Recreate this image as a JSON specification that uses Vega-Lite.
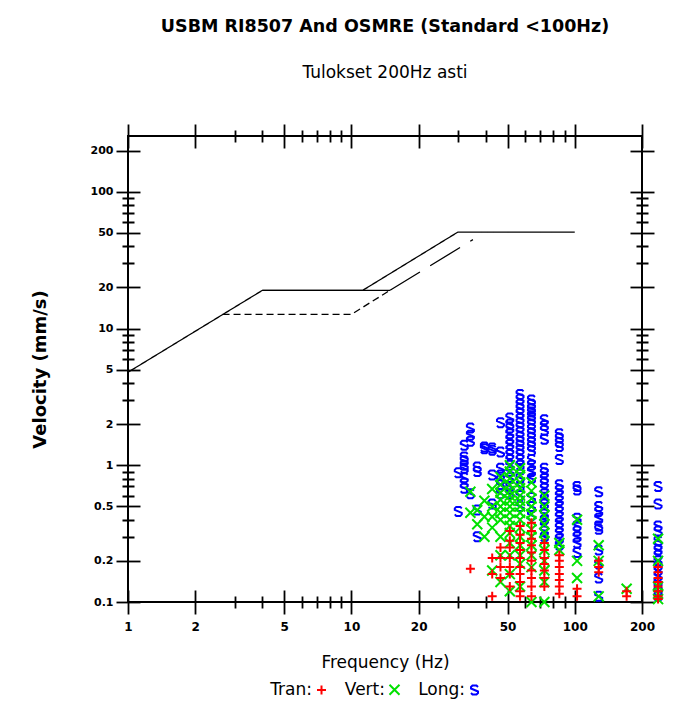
{
  "$schema": "https://vega.github.io/schema/vega-lite/v6.json",
  "width": 514,
  "height": 466,
  "autosize": "none",
  "padding": {"left": 128, "right": 37, "top": 136, "bottom": 107},
  "background": "white",
  "title": {
    "text": "USBM RI8507 And OSMRE (Standard <100Hz)",
    "subtitle": "Tulokset 200Hz asti",
    "anchor": "middle",
    "frame": "group",
    "font": "DejaVu Sans",
    "fontSize": 17.5,
    "fontWeight": "bold",
    "color": "black",
    "subtitleFont": "DejaVu Sans",
    "subtitleFontSize": 17,
    "subtitleFontWeight": "normal",
    "subtitleColor": "black",
    "subtitlePadding": 30,
    "offset": 42
  },
  "config": {
    "view": {"stroke": "black", "strokeWidth": 2},
    "axis": {
      "domain": false,
      "grid": false,
      "offset": -12,
      "tickSize": 24,
      "tickWidth": 1.8,
      "tickColor": "black",
      "tickCap": "butt",
      "labelOverlap": false,
      "labelFlush": false,
      "labelBound": false,
      "labelColor": "black",
      "titleColor": "black"
    }
  },
  "datasets": {
    "lines": [
      {"series": "OSMRE", "i": 0, "f": 1, "v": 4.79},
      {"series": "OSMRE", "i": 1, "f": 4, "v": 19.05},
      {"series": "OSMRE", "i": 2, "f": 11.25, "v": 19.05},
      {"series": "OSMRE", "i": 3, "f": 30, "v": 50.8},
      {"series": "OSMRE", "i": 4, "f": 100, "v": 50.8},
      {"series": "USBM", "i": 0, "f": 4, "v": 19.05},
      {"series": "USBM", "i": 1, "f": 14.9, "v": 19.05},
      {"series": "USBM2", "i": 0, "f": 14.9, "v": 19.05},
      {"series": "USBM2", "i": 1, "f": 35, "v": 44.7},
      {"series": "Plaster", "i": 0, "f": 2.65, "v": 12.7},
      {"series": "Plaster", "i": 1, "f": 10, "v": 12.7},
      {"series": "Plaster", "i": 2, "f": 14.9, "v": 19.05}
    ],
    "pts": [
      {"s": "Long", "f": 30.1, "v": 0.46}, {"s": "Long", "f": 30.1, "v": 0.88},
      {"s": "Long", "f": 32, "v": 1.4}, {"s": "Long", "f": 32, "v": 1.15}, {"s": "Long", "f": 32, "v": 1.08}, {"s": "Long", "f": 32, "v": 1.0}, {"s": "Long", "f": 32, "v": 0.95}, {"s": "Long", "f": 32, "v": 0.81}, {"s": "Long", "f": 32, "v": 0.74}, {"s": "Long", "f": 32, "v": 0.68},
      {"s": "Long", "f": 34.1, "v": 1.87}, {"s": "Long", "f": 34.1, "v": 1.66}, {"s": "Long", "f": 34.1, "v": 1.5}, {"s": "Long", "f": 34.1, "v": 0.62},
      {"s": "Long", "f": 36.6, "v": 0.97}, {"s": "Long", "f": 36.6, "v": 0.9}, {"s": "Long", "f": 36.6, "v": 0.47}, {"s": "Long", "f": 36.6, "v": 0.3},
      {"s": "Long", "f": 39.4, "v": 1.36}, {"s": "Long", "f": 39.4, "v": 1.32},
      {"s": "Long", "f": 42.7, "v": 1.34}, {"s": "Long", "f": 42.7, "v": 1.29}, {"s": "Long", "f": 42.7, "v": 0.85}, {"s": "Long", "f": 42.7, "v": 0.52},
      {"s": "Long", "f": 46.5, "v": 2.05}, {"s": "Long", "f": 46.5, "v": 1.25}, {"s": "Long", "f": 46.5, "v": 0.95}, {"s": "Long", "f": 46.5, "v": 0.85}, {"s": "Long", "f": 46.5, "v": 0.78}, {"s": "Long", "f": 46.5, "v": 0.72}, {"s": "Long", "f": 46.5, "v": 0.62},
      {"s": "Long", "f": 51.2, "v": 2.22}, {"s": "Long", "f": 51.2, "v": 2.0}, {"s": "Long", "f": 51.2, "v": 1.87}, {"s": "Long", "f": 51.2, "v": 1.7}, {"s": "Long", "f": 51.2, "v": 1.55}, {"s": "Long", "f": 51.2, "v": 1.42}, {"s": "Long", "f": 51.2, "v": 1.3}, {"s": "Long", "f": 51.2, "v": 1.2}, {"s": "Long", "f": 51.2, "v": 1.1}, {"s": "Long", "f": 51.2, "v": 1.0}, {"s": "Long", "f": 51.2, "v": 0.9}, {"s": "Long", "f": 51.2, "v": 0.81}, {"s": "Long", "f": 51.2, "v": 0.7}, {"s": "Long", "f": 51.2, "v": 0.62},
      {"s": "Long", "f": 56.9, "v": 3.3}, {"s": "Long", "f": 56.9, "v": 3.05}, {"s": "Long", "f": 56.9, "v": 2.8}, {"s": "Long", "f": 56.9, "v": 2.6}, {"s": "Long", "f": 56.9, "v": 2.4}, {"s": "Long", "f": 56.9, "v": 2.2}, {"s": "Long", "f": 56.9, "v": 2.05}, {"s": "Long", "f": 56.9, "v": 1.9}, {"s": "Long", "f": 56.9, "v": 1.75}, {"s": "Long", "f": 56.9, "v": 1.62}, {"s": "Long", "f": 56.9, "v": 1.5}, {"s": "Long", "f": 56.9, "v": 1.4}, {"s": "Long", "f": 56.9, "v": 1.3}, {"s": "Long", "f": 56.9, "v": 1.2}, {"s": "Long", "f": 56.9, "v": 1.1}, {"s": "Long", "f": 56.9, "v": 1.0}, {"s": "Long", "f": 56.9, "v": 0.81}, {"s": "Long", "f": 56.9, "v": 0.7}, {"s": "Long", "f": 56.9, "v": 0.6}, {"s": "Long", "f": 56.9, "v": 0.5},
      {"s": "Long", "f": 64, "v": 3.0}, {"s": "Long", "f": 64, "v": 2.8}, {"s": "Long", "f": 64, "v": 2.6}, {"s": "Long", "f": 64, "v": 2.45}, {"s": "Long", "f": 64, "v": 2.3}, {"s": "Long", "f": 64, "v": 2.15}, {"s": "Long", "f": 64, "v": 2.0}, {"s": "Long", "f": 64, "v": 1.85}, {"s": "Long", "f": 64, "v": 1.72}, {"s": "Long", "f": 64, "v": 1.6}, {"s": "Long", "f": 64, "v": 1.48}, {"s": "Long", "f": 64, "v": 1.38}, {"s": "Long", "f": 64, "v": 1.28}, {"s": "Long", "f": 64, "v": 1.1}, {"s": "Long", "f": 64, "v": 1.0}, {"s": "Long", "f": 64, "v": 0.9}, {"s": "Long", "f": 64, "v": 0.8}, {"s": "Long", "f": 64, "v": 0.58}, {"s": "Long", "f": 64, "v": 0.5}, {"s": "Long", "f": 64, "v": 0.43},
      {"s": "Long", "f": 73.1, "v": 2.15}, {"s": "Long", "f": 73.1, "v": 1.95}, {"s": "Long", "f": 73.1, "v": 1.8}, {"s": "Long", "f": 73.1, "v": 1.55}, {"s": "Long", "f": 73.1, "v": 0.95}, {"s": "Long", "f": 73.1, "v": 0.88}, {"s": "Long", "f": 73.1, "v": 0.8}, {"s": "Long", "f": 73.1, "v": 0.74}, {"s": "Long", "f": 73.1, "v": 0.68}, {"s": "Long", "f": 73.1, "v": 0.62}, {"s": "Long", "f": 73.1, "v": 0.57}, {"s": "Long", "f": 73.1, "v": 0.52}, {"s": "Long", "f": 73.1, "v": 0.48}, {"s": "Long", "f": 73.1, "v": 0.44}, {"s": "Long", "f": 73.1, "v": 0.4}, {"s": "Long", "f": 73.1, "v": 0.36}, {"s": "Long", "f": 73.1, "v": 0.33}, {"s": "Long", "f": 73.1, "v": 0.3},
      {"s": "Long", "f": 85.3, "v": 1.7}, {"s": "Long", "f": 85.3, "v": 1.58}, {"s": "Long", "f": 85.3, "v": 1.47}, {"s": "Long", "f": 85.3, "v": 1.37}, {"s": "Long", "f": 85.3, "v": 1.1}, {"s": "Long", "f": 85.3, "v": 0.72}, {"s": "Long", "f": 85.3, "v": 0.66}, {"s": "Long", "f": 85.3, "v": 0.6}, {"s": "Long", "f": 85.3, "v": 0.55}, {"s": "Long", "f": 85.3, "v": 0.5}, {"s": "Long", "f": 85.3, "v": 0.46}, {"s": "Long", "f": 85.3, "v": 0.42}, {"s": "Long", "f": 85.3, "v": 0.38}, {"s": "Long", "f": 85.3, "v": 0.35}, {"s": "Long", "f": 85.3, "v": 0.32}, {"s": "Long", "f": 85.3, "v": 0.29}, {"s": "Long", "f": 85.3, "v": 0.26},
      {"s": "Long", "f": 102.4, "v": 0.7}, {"s": "Long", "f": 102.4, "v": 0.66}, {"s": "Long", "f": 102.4, "v": 0.41}, {"s": "Long", "f": 102.4, "v": 0.36}, {"s": "Long", "f": 102.4, "v": 0.33}, {"s": "Long", "f": 102.4, "v": 0.3}, {"s": "Long", "f": 102.4, "v": 0.27}, {"s": "Long", "f": 102.4, "v": 0.23},
      {"s": "Long", "f": 128, "v": 0.64}, {"s": "Long", "f": 128, "v": 0.5}, {"s": "Long", "f": 128, "v": 0.46}, {"s": "Long", "f": 128, "v": 0.41}, {"s": "Long", "f": 128, "v": 0.36}, {"s": "Long", "f": 128, "v": 0.34}, {"s": "Long", "f": 128, "v": 0.24}, {"s": "Long", "f": 128, "v": 0.19}, {"s": "Long", "f": 128, "v": 0.15}, {"s": "Long", "f": 128, "v": 0.11},
      {"s": "Long", "f": 236, "v": 0.7}, {"s": "Long", "f": 236, "v": 0.52}, {"s": "Long", "f": 236, "v": 0.36}, {"s": "Long", "f": 236, "v": 0.33}, {"s": "Long", "f": 236, "v": 0.28}, {"s": "Long", "f": 236, "v": 0.26}, {"s": "Long", "f": 236, "v": 0.24}, {"s": "Long", "f": 236, "v": 0.22}, {"s": "Long", "f": 236, "v": 0.2}, {"s": "Long", "f": 236, "v": 0.185}, {"s": "Long", "f": 236, "v": 0.17}, {"s": "Long", "f": 236, "v": 0.155}, {"s": "Long", "f": 236, "v": 0.14}, {"s": "Long", "f": 236, "v": 0.13}, {"s": "Long", "f": 236, "v": 0.12}, {"s": "Long", "f": 236, "v": 0.11},
      {"s": "Vert", "f": 34.1, "v": 0.64}, {"s": "Vert", "f": 34.1, "v": 0.45},
      {"s": "Vert", "f": 36.6, "v": 0.47}, {"s": "Vert", "f": 36.6, "v": 0.37},
      {"s": "Vert", "f": 39.4, "v": 0.55}, {"s": "Vert", "f": 39.4, "v": 0.42}, {"s": "Vert", "f": 39.4, "v": 0.3},
      {"s": "Vert", "f": 42.7, "v": 0.67}, {"s": "Vert", "f": 42.7, "v": 0.5}, {"s": "Vert", "f": 42.7, "v": 0.42}, {"s": "Vert", "f": 42.7, "v": 0.35}, {"s": "Vert", "f": 42.7, "v": 0.17},
      {"s": "Vert", "f": 46.5, "v": 0.82}, {"s": "Vert", "f": 46.5, "v": 0.72}, {"s": "Vert", "f": 46.5, "v": 0.63}, {"s": "Vert", "f": 46.5, "v": 0.56}, {"s": "Vert", "f": 46.5, "v": 0.5}, {"s": "Vert", "f": 46.5, "v": 0.45}, {"s": "Vert", "f": 46.5, "v": 0.4}, {"s": "Vert", "f": 46.5, "v": 0.3}, {"s": "Vert", "f": 46.5, "v": 0.22}, {"s": "Vert", "f": 46.5, "v": 0.14},
      {"s": "Vert", "f": 51.2, "v": 1.0}, {"s": "Vert", "f": 51.2, "v": 0.9}, {"s": "Vert", "f": 51.2, "v": 0.8}, {"s": "Vert", "f": 51.2, "v": 0.72}, {"s": "Vert", "f": 51.2, "v": 0.65}, {"s": "Vert", "f": 51.2, "v": 0.6}, {"s": "Vert", "f": 51.2, "v": 0.55}, {"s": "Vert", "f": 51.2, "v": 0.5}, {"s": "Vert", "f": 51.2, "v": 0.45}, {"s": "Vert", "f": 51.2, "v": 0.4}, {"s": "Vert", "f": 51.2, "v": 0.36}, {"s": "Vert", "f": 51.2, "v": 0.32}, {"s": "Vert", "f": 51.2, "v": 0.27}, {"s": "Vert", "f": 51.2, "v": 0.22}, {"s": "Vert", "f": 51.2, "v": 0.16}, {"s": "Vert", "f": 51.2, "v": 0.12},
      {"s": "Vert", "f": 56.9, "v": 0.95}, {"s": "Vert", "f": 56.9, "v": 0.85}, {"s": "Vert", "f": 56.9, "v": 0.75}, {"s": "Vert", "f": 56.9, "v": 0.68}, {"s": "Vert", "f": 56.9, "v": 0.6}, {"s": "Vert", "f": 56.9, "v": 0.55}, {"s": "Vert", "f": 56.9, "v": 0.5}, {"s": "Vert", "f": 56.9, "v": 0.45}, {"s": "Vert", "f": 56.9, "v": 0.4}, {"s": "Vert", "f": 56.9, "v": 0.35}, {"s": "Vert", "f": 56.9, "v": 0.3}, {"s": "Vert", "f": 56.9, "v": 0.26}, {"s": "Vert", "f": 56.9, "v": 0.22}, {"s": "Vert", "f": 56.9, "v": 0.19}, {"s": "Vert", "f": 56.9, "v": 0.13},
      {"s": "Vert", "f": 64, "v": 0.75}, {"s": "Vert", "f": 64, "v": 0.65}, {"s": "Vert", "f": 64, "v": 0.57}, {"s": "Vert", "f": 64, "v": 0.5}, {"s": "Vert", "f": 64, "v": 0.44}, {"s": "Vert", "f": 64, "v": 0.39}, {"s": "Vert", "f": 64, "v": 0.34}, {"s": "Vert", "f": 64, "v": 0.3}, {"s": "Vert", "f": 64, "v": 0.26}, {"s": "Vert", "f": 64, "v": 0.22}, {"s": "Vert", "f": 64, "v": 0.18}, {"s": "Vert", "f": 64, "v": 0.1},
      {"s": "Vert", "f": 73.1, "v": 0.6}, {"s": "Vert", "f": 73.1, "v": 0.5}, {"s": "Vert", "f": 73.1, "v": 0.43}, {"s": "Vert", "f": 73.1, "v": 0.37}, {"s": "Vert", "f": 73.1, "v": 0.32}, {"s": "Vert", "f": 73.1, "v": 0.28}, {"s": "Vert", "f": 73.1, "v": 0.24}, {"s": "Vert", "f": 73.1, "v": 0.2}, {"s": "Vert", "f": 73.1, "v": 0.17}, {"s": "Vert", "f": 73.1, "v": 0.14}, {"s": "Vert", "f": 73.1, "v": 0.1},
      {"s": "Vert", "f": 85.3, "v": 0.27}, {"s": "Vert", "f": 85.3, "v": 0.24},
      {"s": "Vert", "f": 102.4, "v": 0.4}, {"s": "Vert", "f": 102.4, "v": 0.2}, {"s": "Vert", "f": 102.4, "v": 0.15},
      {"s": "Vert", "f": 128, "v": 0.26}, {"s": "Vert", "f": 128, "v": 0.2}, {"s": "Vert", "f": 128, "v": 0.11},
      {"s": "Vert", "f": 170.7, "v": 0.125},
      {"s": "Vert", "f": 236, "v": 0.29}, {"s": "Vert", "f": 236, "v": 0.2}, {"s": "Vert", "f": 236, "v": 0.13}, {"s": "Vert", "f": 236, "v": 0.115}, {"s": "Vert", "f": 236, "v": 0.105},
      {"s": "Tran", "f": 34.1, "v": 0.175},
      {"s": "Tran", "f": 42.7, "v": 0.21}, {"s": "Tran", "f": 42.7, "v": 0.16}, {"s": "Tran", "f": 42.7, "v": 0.11},
      {"s": "Tran", "f": 46.5, "v": 0.25}, {"s": "Tran", "f": 46.5, "v": 0.21}, {"s": "Tran", "f": 46.5, "v": 0.18}, {"s": "Tran", "f": 46.5, "v": 0.15},
      {"s": "Tran", "f": 51.2, "v": 0.33}, {"s": "Tran", "f": 51.2, "v": 0.28}, {"s": "Tran", "f": 51.2, "v": 0.25}, {"s": "Tran", "f": 51.2, "v": 0.21}, {"s": "Tran", "f": 51.2, "v": 0.18}, {"s": "Tran", "f": 51.2, "v": 0.16}, {"s": "Tran", "f": 51.2, "v": 0.13},
      {"s": "Tran", "f": 56.9, "v": 0.36}, {"s": "Tran", "f": 56.9, "v": 0.31}, {"s": "Tran", "f": 56.9, "v": 0.27}, {"s": "Tran", "f": 56.9, "v": 0.24}, {"s": "Tran", "f": 56.9, "v": 0.21}, {"s": "Tran", "f": 56.9, "v": 0.18}, {"s": "Tran", "f": 56.9, "v": 0.16}, {"s": "Tran", "f": 56.9, "v": 0.14}, {"s": "Tran", "f": 56.9, "v": 0.12}, {"s": "Tran", "f": 56.9, "v": 0.11},
      {"s": "Tran", "f": 64, "v": 0.38}, {"s": "Tran", "f": 64, "v": 0.33}, {"s": "Tran", "f": 64, "v": 0.29}, {"s": "Tran", "f": 64, "v": 0.26}, {"s": "Tran", "f": 64, "v": 0.23}, {"s": "Tran", "f": 64, "v": 0.2}, {"s": "Tran", "f": 64, "v": 0.17}, {"s": "Tran", "f": 64, "v": 0.15}, {"s": "Tran", "f": 64, "v": 0.13}, {"s": "Tran", "f": 64, "v": 0.11},
      {"s": "Tran", "f": 73.1, "v": 0.27}, {"s": "Tran", "f": 73.1, "v": 0.24}, {"s": "Tran", "f": 73.1, "v": 0.21}, {"s": "Tran", "f": 73.1, "v": 0.19}, {"s": "Tran", "f": 73.1, "v": 0.17}, {"s": "Tran", "f": 73.1, "v": 0.15}, {"s": "Tran", "f": 73.1, "v": 0.13},
      {"s": "Tran", "f": 85.3, "v": 0.22}, {"s": "Tran", "f": 85.3, "v": 0.2}, {"s": "Tran", "f": 85.3, "v": 0.18}, {"s": "Tran", "f": 85.3, "v": 0.16}, {"s": "Tran", "f": 85.3, "v": 0.145}, {"s": "Tran", "f": 85.3, "v": 0.13}, {"s": "Tran", "f": 85.3, "v": 0.115},
      {"s": "Tran", "f": 102.4, "v": 0.125}, {"s": "Tran", "f": 102.4, "v": 0.11},
      {"s": "Tran", "f": 128, "v": 0.2}, {"s": "Tran", "f": 128, "v": 0.18}, {"s": "Tran", "f": 128, "v": 0.165},
      {"s": "Tran", "f": 170.7, "v": 0.12}, {"s": "Tran", "f": 170.7, "v": 0.11},
      {"s": "Tran", "f": 236, "v": 0.18}, {"s": "Tran", "f": 236, "v": 0.165}, {"s": "Tran", "f": 236, "v": 0.15}, {"s": "Tran", "f": 236, "v": 0.14}, {"s": "Tran", "f": 236, "v": 0.13}, {"s": "Tran", "f": 236, "v": 0.12}, {"s": "Tran", "f": 236, "v": 0.11}, {"s": "Tran", "f": 236, "v": 0.105}
    ]
  },
  "layer": [
    {
      "data": {"name": "lines"},
      "mark": {"type": "line", "color": "black", "strokeWidth": 1.3},
      "encoding": {
        "x": {
          "field": "f", "type": "quantitative",
          "scale": {"type": "log", "domain": [1, 200], "nice": false, "zero": false},
          "axis": {
            "orient": "bottom",
            "values": [1, 2, 3, 4, 5, 6, 7, 8, 9, 10, 20, 30, 40, 50, 60, 70, 80, 90, 100, 200],
            "tickDash": {"condition": {"test": "indexof([3,4,6,7,8,9,30,40,60,70,80,90], datum.value) >= 0", "value": [0, 6, 12, 6]}, "value": [40, 1]},
            "labelExpr": "indexof([3,4,6,7,8,9,30,40,60,70,80,90], datum.value) >= 0 ? '' : format(datum.value, '~g')",
            "labelFont": "DejaVu Sans", "labelFontWeight": "bold", "labelFontSize": 12, "labelPadding": 7,
            "title": "Frequency (Hz)", "titleFont": "DejaVu Sans", "titleFontSize": 17, "titleFontWeight": "normal", "titlePadding": 22
          }
        },
        "y": {
          "field": "v", "type": "quantitative",
          "scale": {"type": "log", "domain": [0.1, 256], "nice": false, "zero": false},
          "axis": {
            "orient": "left",
            "values": [0.1, 0.2, 0.3, 0.4, 0.5, 0.6, 0.7, 0.8, 0.9, 1, 2, 3, 4, 5, 6, 7, 8, 9, 10, 20, 30, 40, 50, 60, 70, 80, 90, 100, 200],
            "tickDash": {"condition": {"test": "indexof([0.3,0.4,0.6,0.7,0.8,0.9,3,4,6,7,8,9,30,40,60,70,80,90], datum.value) >= 0", "value": [0, 6, 12, 6]}, "value": [40, 1]},
            "labelExpr": "indexof([0.3,0.4,0.6,0.7,0.8,0.9,3,4,6,7,8,9,30,40,60,70,80,90], datum.value) >= 0 ? '' : format(datum.value, '~g')",
            "labelFont": "DejaVu Sans", "labelFontWeight": "bold", "labelFontSize": 11, "labelPadding": 3,
            "title": "Velocity (mm/s)", "titleFont": "DejaVu Sans", "titleFontSize": 18, "titleFontWeight": "bold", "titlePadding": 41
          }
        },
        "order": {"field": "i", "type": "quantitative"},
        "strokeDash": {
          "field": "series", "type": "nominal",
          "scale": {"domain": ["OSMRE", "USBM", "USBM2", "Plaster"], "range": [[1, 0], [1, 0], [35, 12], [7, 4]]},
          "legend": null
        }
      }
    },
    {
      "data": {"name": "pts"},
      "mark": {"type": "point", "filled": false, "strokeWidth": 2, "size": 100, "opacity": 1},
      "encoding": {
        "x": {
          "field": "f", "type": "quantitative",
          "scale": {"type": "log", "domain": [1, 200], "nice": false, "zero": false},
          "axis": {
            "orient": "top",
            "values": [1, 2, 3, 4, 5, 6, 7, 8, 9, 10, 20, 30, 40, 50, 60, 70, 80, 90, 100, 200],
            "tickDash": {"condition": {"test": "indexof([3,4,6,7,8,9,30,40,60,70,80,90], datum.value) >= 0", "value": [0, 6, 12, 6]}, "value": [40, 1]},
            "labels": false, "title": null
          }
        },
        "y": {
          "field": "v", "type": "quantitative",
          "scale": {"type": "log", "domain": [0.1, 256], "nice": false, "zero": false},
          "axis": {
            "orient": "right",
            "values": [0.1, 0.2, 0.3, 0.4, 0.5, 0.6, 0.7, 0.8, 0.9, 1, 2, 3, 4, 5, 6, 7, 8, 9, 10, 20, 30, 40, 50, 60, 70, 80, 90, 100, 200],
            "tickDash": {"condition": {"test": "indexof([0.3,0.4,0.6,0.7,0.8,0.9,3,4,6,7,8,9,30,40,60,70,80,90], datum.value) >= 0", "value": [0, 6, 12, 6]}, "value": [40, 1]},
            "labels": false, "title": null
          }
        },
        "color": {
          "field": "s", "type": "nominal",
          "scale": {"domain": ["Tran", "Vert", "Long"], "range": ["#ff0000", "#00e000", "#0000ff"]},
          "legend": {
            "orient": "none", "legendX": 185, "legendY": 545, "direction": "horizontal",
            "title": null, "padding": 0,
            "labelExpr": "datum.label + ':'",
            "labelFont": "DejaVu Sans", "labelFontSize": 17, "labelColor": "black",
            "labelAlign": "right", "labelOffset": -18,
            "columnPadding": 14, "symbolStrokeWidth": 2, "symbolSize": 100
          }
        },
        "shape": {
          "field": "s", "type": "nominal",
          "scale": {"domain": ["Tran", "Vert", "Long"], "range": ["M-0.9,0L0.9,0M0,-0.9L0,0.9", "M-1,-1L1,1M-1,1L1,-1", "M0.7,-0.6L0.4,-0.9L-0.4,-0.9L-0.7,-0.6L-0.7,-0.3L0.7,0.3L0.7,0.6L0.4,0.9L-0.4,0.9L-0.7,0.6"]}
        }
      }
    }
  ],
  "resolve": {
    "scale": {"x": "independent", "y": "independent"},
    "axis": {"x": "independent", "y": "independent"}
  }
}
